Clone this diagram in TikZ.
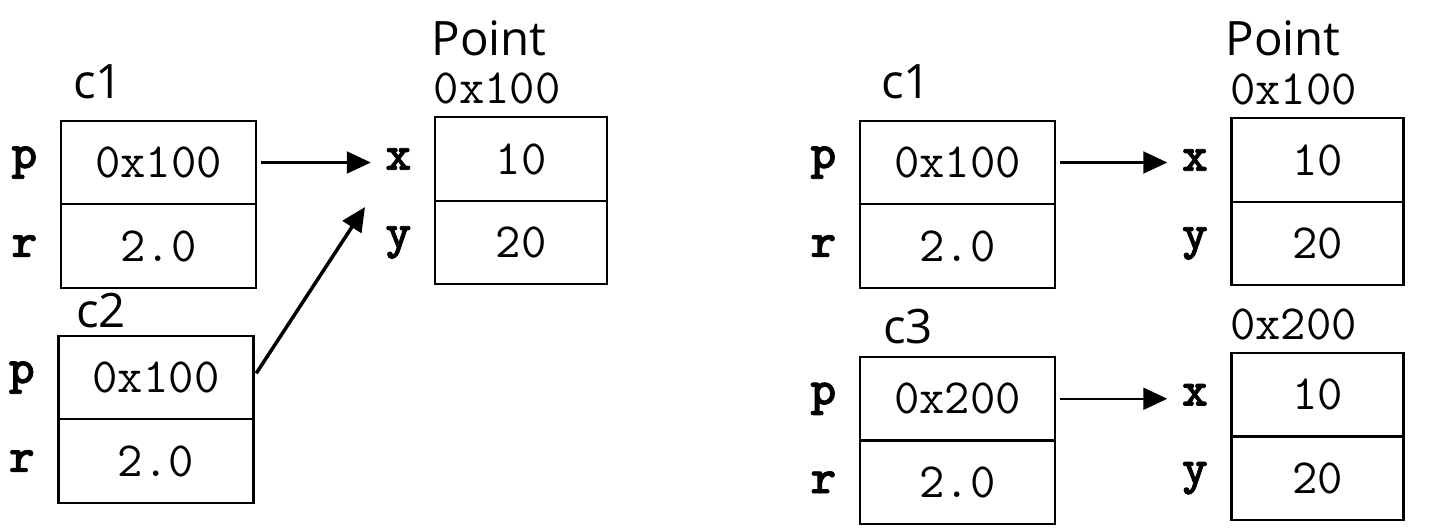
\documentclass[tikz,border=0pt]{standalone}
\usepackage{fontspec}
\setmainfont{Open Sans}
\newfontfamily\lblfont{lmmonolt10-bold.otf}[FakeBold=1.5]
\usetikzlibrary{positioning,arrows.meta}
\tikzset{
  cell/.style={draw,semithick,outer sep=0pt,minimum width=1.95cm,minimum height=0.835cm,font=\fontsize{14}{16}\ttfamily},
  objcell/.style={cell,minimum width=1.72cm},
  fieldlbl/.style={inner sep=0pt,font=\fontsize{14}{16}\lblfont},
  addrlbl/.style={inner sep=0pt,font=\fontsize{14}{16}\ttfamily},
  varname/.style={inner sep=0pt,font=\fontsize{13.5}{15}\selectfont},
  ptr/.style={-{Triangle[length=2.4mm,width=2.2mm]},semithick,shorten <=0.05cm}
}
\begin{document}
\begin{tikzpicture}
\useasboundingbox (0,0) rectangle (14.32,5.3);
%c1
\node[varname] (c1) at (0.98,4.48) {c1};
\node[cell] (c1p) at (1.585,3.675) {0x100};
\node[cell,below=0pt of c1p] (c1r) {2.0};
\node[fieldlbl,left=0.23cm of c1p] (c1pl) {p};
\node[fieldlbl,left=0.23cm of c1r] (c1rl) {r};
%c2
\node[varname] (c2) at (1.01,2.19) {c2};
\node[cell] (c2p) at (1.56,1.525) {0x100};
\node[cell,below=0pt of c2p] (c2r) {2.0};
\node[fieldlbl,left=0.23cm of c2p] (c2pl) {p};
\node[fieldlbl,left=0.23cm of c2r] (c2rl) {r};
%point 0x100
\node[varname] (pt) at (4.89,4.92) {Point};
\node[objcell] (ptx) at (5.21,3.71) {10};
\node[objcell,below=0pt of ptx] (pty) {20};
\node[addrlbl,above right=0.12cm and -0.02cm of ptx.north west] (ptaddr) {0x100};
\node[fieldlbl,left=0.23cm of ptx] (ptxl) {x};
\node[fieldlbl,left=0.23cm of pty] (ptyl) {y};
%c1 and c2 point to the same object
\draw[ptr,shorten >=0.14cm] (c1p.east) -- (c1p.east -| ptxl.west);
\coordinate (hit) at (3.65,3.23);
\draw[ptr,line width=1pt] (c2p.east) -- (hit);

\begin{scope}[shift={(7.98,0)}]
%c1
\node[varname] (rc1) at (1.08,4.48) {c1};
\node[cell] (rc1p) at (1.595,3.675) {0x100};
\node[cell,below=0pt of rc1p] (rc1r) {2.0};
\node[fieldlbl,left=0.23cm of rc1p] (rc1pl) {p};
\node[fieldlbl,left=0.23cm of rc1r] (rc1rl) {r};
%point 0x100
\node[varname] (rpt) at (4.85,4.92) {Point};
\node[objcell] (rptx) at (5.195,3.70) {10};
\node[objcell,below=0pt of rptx] (rpty) {20};
\node[addrlbl,above right=0.12cm and -0.02cm of rptx.north west] (rptaddr) {0x100};
\node[fieldlbl,left=0.23cm of rptx] (rptxl) {x};
\node[fieldlbl,left=0.23cm of rpty] (rptyl) {y};
\draw[ptr,shorten >=0.14cm] (rc1p.east) -- (rc1p.east -| rptxl.west);
%c3
\node[varname] (c3) at (1.10,2.03) {c3};
\node[cell] (c3p) at (1.595,1.3125) {0x200};
\node[cell,below=0pt of c3p] (c3r) {2.0};
\node[fieldlbl,left=0.23cm of c3p] (c3pl) {p};
\node[fieldlbl,left=0.23cm of c3r] (c3rl) {r};
%point 0x200
\node[objcell] (qtx) at (5.195,1.3525) {10};
\node[objcell,below=0pt of qtx] (qty) {20};
\node[addrlbl,above right=0.12cm and -0.02cm of qtx.north west] (qtaddr) {0x200};
\node[fieldlbl,left=0.23cm of qtx] (qtxl) {x};
\node[fieldlbl,left=0.23cm of qty] (qtyl) {y};
\draw[ptr,shorten >=0.14cm] (c3p.east) -- (c3p.east -| qtxl.west);
\end{scope}
\end{tikzpicture}
\end{document}
